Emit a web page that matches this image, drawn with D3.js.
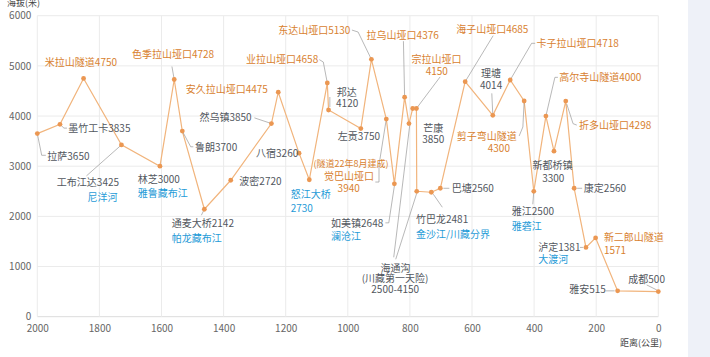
<!DOCTYPE html>
<html><head><meta charset="utf-8">
<script src="https://cdn.jsdelivr.net/npm/d3@7"></script>
<style>
html,body{margin:0;padding:0;background:#fff;}
svg{display:block;font-family:"Noto Sans CJK SC","Noto Sans",sans-serif;}
</style></head>
<body>
<svg id="chart" width="710" height="357"></svg>
<script>
// ---- data ----
const stops = ["拉萨","墨竹工卡","米拉山隧道","工布江达","林芝","色季拉山垭口","鲁朗","通麦大桥","波密","然乌镇","安久拉山垭口","八宿","怒江大桥","业拉山垭口","邦达","左贡","东达山垭口","觉巴山垭口","如美镇","拉乌山垭口","芒康","宗拉山垭口","宗拉山垭口","海通沟","竹巴龙","巴塘","海子山垭口","理塘","卡子拉山垭口","剪子弯山隧道","雅江","高尔寺山隧道","新都桥镇","折多山垭口","康定","泸定","新二郎山隧道","雅安","成都"];
const distance = [2000,1927,1851,1729,1605,1559,1533,1462,1377,1246,1224,1157,1124,1066,1062,958,924,876,850,817,803,791,779,778,731,702,622,533,477,432,401,362,336,298,271,233,202,131,0];
const altitude = [3650,3835,4750,3425,3000,4728,3700,2142,2720,3850,4475,3260,2730,4658,4120,3750,5130,3940,2648,4376,3850,4150,4150,2500,2481,2560,4685,4014,4718,4300,2500,4000,3300,4298,2560,1381,1571,515,500];
const rivers = ["尼洋河","雅鲁藏布江","帕龙藏布江","澜沧江","金沙江/川藏分界","雅砻江","大渡河"];
const notes = ["(隧道22年8月建成)","(川藏第一天险)","2500-4150"];
const xTicks = [2000,1800,1600,1400,1200,1000,800,600,400,200,0];
const yTicks = [0,1000,2000,3000,4000,5000,6000];
const xTitle = "距离(公里)";
const yTitle = "海拔(米)";

// ---- styles ----
const C = {pass:"#d8812f", town:"#52575e", river:"#1f9bd7", note:"#d8812f",
           line:"#f1b47c", dot:"#eb9752", grid:"#ebebeb", axisText:"#666", leader:"#9a9a9a"};

const svg = d3.select("#chart");
svg.append("rect").attr("x",688).attr("y",0).attr("width",22).attr("height",357).attr("fill","#eef1f8");

const x = d3.scaleLinear().domain([2000,0]).range([37.3,658.3]);
const y = d3.scaleLinear().domain([0,6000]).range([316.7,15.7]);

// grid
svg.append("g").selectAll("line").data(yTicks).join("line")
  .attr("x1",x(2000)).attr("x2",x(0)).attr("y1",d=>y(d)).attr("y2",d=>y(d))
  .attr("stroke",d=>d===0?"#dcdcdc":C.grid).attr("stroke-width",1);
svg.append("g").selectAll("line").data(xTicks).join("line")
  .attr("y1",y(0)).attr("y2",y(6000)).attr("x1",d=>x(d)).attr("x2",d=>x(d))
  .attr("stroke",C.grid).attr("stroke-width",1);

// axes via d3
const xAxis = svg.append("g").attr("transform",`translate(0,${y(0)})`)
  .call(d3.axisBottom(x).tickValues(xTicks).tickSize(0).tickPadding(8).tickFormat(d3.format("d")));
const yAxis = svg.append("g").attr("transform",`translate(${x(2000)},0)`)
  .call(d3.axisLeft(y).tickValues(yTicks).tickSize(0).tickPadding(6).tickFormat(d3.format("d")));
[xAxis,yAxis].forEach(g=>{
  g.select(".domain").remove();
  g.selectAll("text").attr("fill",C.axisText).attr("font-size",10)
   .attr("font-family",'"Noto Sans CJK SC",sans-serif');
});
svg.append("text").text(xTitle).attr("x",662).attr("y",346).attr("text-anchor","end")
  .attr("font-size",9).attr("fill","#444");
svg.append("text").text(yTitle).attr("x",7).attr("y",6).attr("text-anchor","start")
  .attr("font-size",9).attr("fill","#444");

// line
const pts = distance.map((d,i)=>({d, a:altitude[i], n:stops[i]}));
svg.append("path").datum(pts)
  .attr("d", d3.line().x(p=>x(p.d)).y(p=>y(p.a)))
  .attr("fill","none").attr("stroke",C.line).attr("stroke-width",1.2);

// ---- label layout (offsets from the point, px) ----
const lab = (i)=>stops[i]+altitude[i];
const layout = [
 {i:0, lines:[[lab(0),"town",10,22.4]], leader:[[0,0],[4.4,21.7],[8.5,21.7]]},
 {i:1, lines:[[lab(1),"town",8.3,4.4]], leader:[[0,0],[4,3.8],[7,3.8]]},
 {i:2, lines:[[lab(2),"pass",-38.7,-16]]},
 {i:3, lines:[[lab(3),"town",-64.6,38],[rivers[0],"river",-34,52.6]], leader:[[0,0],[-35,31]]},
 {i:4, lines:[[lab(4),"town",-22.3,13.3],[rivers[1],"river",-22.3,27.6]]},
 {i:5, lines:[[lab(5),"pass",-42.3,-25]], leader:[[0,0],[-2.3,-13]]},
 {i:6, lines:[[lab(6),"town",12.7,16.3]], leader:[[0,0],[8.4,15.7],[11,15.7]]},
 {i:7, lines:[[lab(7),"town",-32.6,14],[rivers[2],"river",-32.6,29]], leader:[[0,0],[-3,6]]},
 {i:8, lines:[[lab(8),"town",8.6,0.7]]},
 {i:9, lines:[[lab(9),"town",-72,-6]], leader:[[-17,-5.7],[0,0]]},
 {i:10, lines:[[lab(10),"pass",-92.6,-2.4]]},
 {i:11, lines:[[lab(11),"town",-43,0]]},
 {i:12, lines:[[stops[12],"river",-18.6,15],[String(altitude[12]),"river",-18.6,28.3]]},
 {i:13, lines:[[lab(13),"pass",-81.3,-23.4]], leader:[[0,0],[-4,-21],[-8,-23.4]]},
 {i:14, lines:[[stops[14],"town",18.3,-18,"middle"],[String(altitude[14]),"town",18.6,-6.4,"middle"]], leader:[[1.3,-13],[1.3,-3]]},
 {i:15, lines:[[lab(15),"town",-23,8]]},
 {i:16, lines:[[lab(16),"pass",-93.2,-28.6]], leader:[[0,0],[-13.3,-27.3],[-19.5,-29.3]]},
 {i:17, lines:[[notes[0],"note",-35.3,44.5,"middle",9],[stops[17],"pass",-37.3,57,"middle"],[String(altitude[17]),"pass",-37.6,69.3,"middle"]],
        leader:[[0,0],[-7.3,46],[-7.3,63],[-11,63]]},
 {i:18, lines:[[lab(18),"town",-63.3,39.3],[rivers[3],"river",-63.3,52.7]], leader:[[0,2],[-5.6,39],[-9,39]]},
 {i:19, lines:[[lab(19),"pass",-38,-61.3]], leader:[[0,0],[-1.2,-56]]},
 {i:20, lines:[[stops[20],"town",24.3,5,"middle"],[String(altitude[20]),"town",24.3,16,"middle"]]},
 {i:22, lines:[[stops[22],"pass",20,-49.3,"middle"],[String(altitude[22]),"pass",20.4,-37.6,"middle"]], leader:[[0,0],[23.7,-31.6]]},
 {i:23, lines:[[stops[23],"town",-21.3,77,"middle"],[notes[1],"town",-21.7,87,"middle"],[notes[2],"town",-21.5,98,"middle"]],
        leader:[[-21,68],[0,2]], leader2:[[-23,66],[-7,-66]]},
 {i:24, lines:[[lab(24),"town",-15.3,27],[rivers[4],"river",-15.3,41.7]], leader:[[2,2],[11,15]]},
 {i:25, lines:[[lab(25),"town",11.4,0]], leader:[[3,0],[9,0]]},
 {i:26, lines:[[lab(26),"pass",-9,-52]], leader:[[0,0],[28,-46]]},
 {i:27, lines:[[stops[27],"town",-1.7,-42,"middle"],[String(altitude[27]),"town",-1.7,-29.6,"middle"]], leader:[[0,0],[-1,-22]]},
 {i:28, lines:[[lab(28),"pass",26.4,-37]], leader:[[0,0],[21.4,-36.7],[25,-36.7]]},
 {i:29, lines:[[stops[29],"pass",-67.3,35.3],[String(altitude[29]),"pass",-25.3,47,"middle"]], leader:[[0,0],[-1.3,26],[-5,35]]},
 {i:30, lines:[[lab(30),"town",-22,20.4],[rivers[5],"river",-22,34.7]], leader:[[0,0],[-1,13]]},
 {i:31, lines:[[lab(31),"pass",13.3,-38.7]], leader:[[0,0],[9,-38.7],[12,-38.7]]},
 {i:32, lines:[[stops[32],"town",-1.5,14.7,"middle"],[String(altitude[32]),"town",-0.7,27.3,"middle"]]},
 {i:33, lines:[[lab(33),"pass",13.3,24.3]], leader:[[1,3],[7.3,22.6],[11,24]]},
 {i:34, lines:[[lab(34),"town",9.7,0]], leader:[[3,0],[8,0]]},
 {i:35, lines:[[lab(35),"town",-47.7,0],[rivers[6],"river",-47.7,12.3]], leader:[[-6,0],[-3,0]]},
 {i:36, lines:[[stops[36],"pass",8.3,0],[String(altitude[36]),"pass",8.3,12.4]]},
 {i:37, lines:[[lab(37),"town",-48.4,-1]], leader:[[-12,0],[-3,0]]},
 {i:38, lines:[[lab(38),"town",-30,-12.4]], leader:[[-11.6,-6.7],[-1.6,-1.7]]}
];

// leaders
const gL = svg.append("g");
layout.forEach(L=>{
  const px = x(distance[L.i]), py = y(altitude[L.i]);
  [L.leader, L.leader2].filter(Boolean).forEach(ld=>{
    gL.append("path").attr("d", d3.line()(ld.map(([dx,dy])=>[px+dx,py+dy])))
      .attr("fill","none").attr("stroke",C.leader).attr("stroke-width",0.7);
  });
});

// dots
svg.append("g").selectAll("circle").data(pts).join("circle")
  .attr("cx",p=>x(p.d)).attr("cy",p=>y(p.a)).attr("r",2.4).attr("fill",C.dot);

// labels
const gT = svg.append("g");
layout.forEach(L=>{
  const px = x(distance[L.i]), py = y(altitude[L.i]);
  L.lines.forEach(([t,cls,dx,dy,anchor,fs])=>{
    gT.append("text").text(t)
      .attr("x",px+dx).attr("y",py+dy).attr("dy","0.36em")
      .attr("text-anchor",anchor||"start")
      .attr("font-size",fs||10).attr("fill",C[cls]);
  });
});
</script>
</body></html>
